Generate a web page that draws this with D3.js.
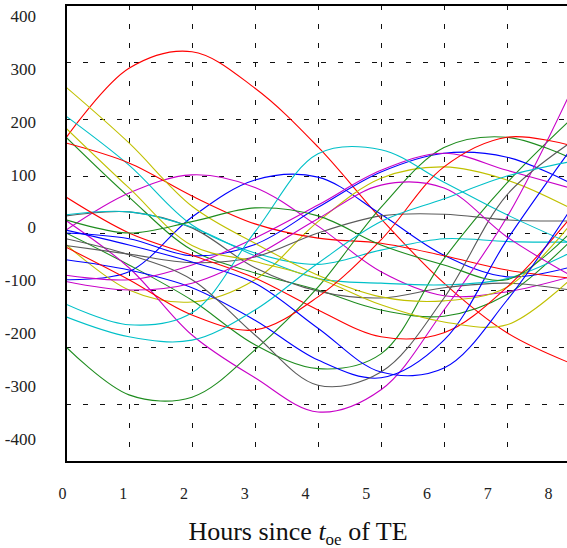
<!DOCTYPE html>
<html>
<head>
<meta charset="utf-8">
<script src="https://cdn.jsdelivr.net/npm/d3@7"></script>
<style>
  body { margin: 0; background: #fff; }
  figure { margin: 0; }
  svg { display: block; }
  svg text { font-family: "Liberation Serif", "DejaVu Serif", serif !important; }
</style>
</head>
<body>
<figure></figure>
<script>

////////////////////////////////////
///////////// Data /////////////////
////////////////////////////////////

// sample times (hours since toe)
const hours = [0, 1, 2, 3, 4, 5, 6, 7, 8]

// tick labels
const yTickLabels = [-400, -300, -200, -100, 0, 100, 200, 300, 400]
const xTickLabels = [0, 1, 2, 3, 4, 5, 6, 7, 8]
const yGrid = [-300, -200, -100, 0, 100, 200, 300]
const xGrid = [1, 2, 3, 4, 5, 6, 7]

// one array per curve, values read at each hour
const red1 = [167, 289, 318, 254, 151, 25, -88, -175, -228]
const red2 = [158, 123, 65, 16, -9, -18, -40, -65, -79]
const red3 = [63, 0, -39, -79, -135, -182, -175, -95, 26]
const red4 = [-25, -82, -144, -170, -112, -12, 116, 168, 154]

const green1 = [168, 63, -30, -70, -100, -135, -146, -108, -15]
const green2 = [0, -56, -118, -196, -238, -212, -45, 88, 198]
const green3 = [-200, -284, -288, -205, -95, 45, 150, 168, 132]
const green4 = [23, 0, 20, 44, 30, -21, -56, -82, 0]

const blue1 = [-82, -68, 28, 93, 98, 33, -39, -77, -60]
const blue2 = [0, -10, -40, -20, 45, 107, 140, 133, 88]
const blue3 = [-47, -65, -96, -153, -223, -254, -188, -12, 145]
const blue4 = [5, -21, -51, -88, -167, -244, -237, -118, 40]

const magenta1 = [5, 70, 102, 80, 12, -68, -110, -103, -77]
const magenta2 = [22, -61, -179, -254, -314, -275, -135, 28, 245]
const magenta3 = [-74, -82, -56, -9, 49, 110, 140, 110, 79]
const magenta4 = [-85, -100, -88, -40, 25, 84, 79, -7, -74]

const cyan1 = [205, 119, 14, -35, -55, -30, -10, -15, -16]
const cyan2 = [32, 37, 10, -40, -80, -88, -91, -80, -35]
const cyan3 = [-125, -161, -140, 2, 139, 146, 89, 32, -18]
const cyan4 = [-147, -182, -188, -135, -53, 20, 60, 100, 125]

const yellow1 = [-20, -100, -121, -82, 20, 96, 116, 93, 44]
const yellow2 = [256, 158, 47, -18, -74, -112, -119, -95, 14]
const yellow3 = [184, 79, -22, -50, -80, -126, -156, -161, -82]

const grey1 = [30, 37, 9, -61, -102, -114, -96, -88, -100]
const grey2 = [-22, -37, -52, -42, 0, 30, 33, 23, 21]
const grey3 = [-10, -38, -82, -179, -267, -244, -114, 67, 158]

////////////////////////////////////
///////////// SVG Setup ////////////
////////////////////////////////////

const svgWidth = 567
const svgHeight = 548

const plot = { left: 66, right: 567, top: 5, bottom: 462 }

const svg = d3.select('figure')
  .append('svg')
  .attr('width', svgWidth)
  .attr('height', svgHeight)

// colours (gnuplot-like)
const colors = {
  red: '#ff0000',
  green: '#1e8c1e',
  blue: '#0000ff',
  magenta: '#c800c8',
  cyan: '#00c0c8',
  yellow: '#c0c000',
  grey: '#5a5a5a'
}

const curves = [
  [red1, colors.red], [green1, colors.green], [blue1, colors.blue], [magenta1, colors.magenta],
  [cyan1, colors.cyan], [yellow1, colors.yellow], [grey1, colors.grey],
  [red2, colors.red], [green2, colors.green], [blue2, colors.blue], [magenta2, colors.magenta],
  [cyan2, colors.cyan], [yellow2, colors.yellow], [grey2, colors.grey],
  [red3, colors.red], [green3, colors.green], [blue3, colors.blue], [magenta3, colors.magenta],
  [cyan3, colors.cyan], [yellow3, colors.yellow], [grey3, colors.grey],
  [red4, colors.red], [green4, colors.green], [blue4, colors.blue], [magenta4, colors.magenta],
  [cyan4, colors.cyan]
]

////////////////////////////////////
///////////// Scales ///////////////
////////////////////////////////////

const x = d3.scaleLinear()
  .domain([0, 8])
  .range([66, 570])

const y = d3.scaleLinear()
  .domain([-400, 400])
  .range([461, 5])

// tick labels in the original are not aligned to the grid
const yLabel = d3.scaleLinear()
  .domain([-400, 400])
  .range([439, 16])

const xLabel = d3.scaleLinear()
  .domain([0, 8])
  .range([62, 548])

////////////////////////////////////
///////////// Grid /////////////////
////////////////////////////////////

svg.append('g')
  .attr('transform', `translate(${plot.left},0)`)
  .call(d3.axisLeft(y).tickValues(yGrid).tickSize(-(plot.right - plot.left)).tickFormat(''))
  .call(g => g.select('.domain').remove())
  .selectAll('line')
  .attr('stroke', '#111')
  .attr('stroke-dasharray', '5,12')

svg.append('g')
  .attr('transform', `translate(0,${plot.top})`)
  .call(d3.axisTop(x).tickValues(xGrid).tickSize(-(plot.bottom - plot.top)).tickFormat(''))
  .call(g => g.select('.domain').remove())
  .selectAll('line')
  .attr('stroke', '#111')
  .attr('stroke-dasharray', '5,14')

////////////////////////////////////
///////////// Curves ///////////////
////////////////////////////////////

svg.append('clipPath')
  .attr('id', 'clip')
  .append('rect')
  .attr('x', plot.left)
  .attr('y', plot.top)
  .attr('width', plot.right - plot.left)
  .attr('height', plot.bottom - plot.top)

const line = d3.line()
  .x((d, i) => x(hours[i]))
  .y(d => y(d))
  .curve(d3.curveCatmullRom.alpha(0.5))

svg.append('g')
  .attr('clip-path', 'url(#clip)')
  .selectAll('path')
  .data(curves)
  .enter()
  .append('path')
  .attr('d', d => line(d[0]))
  .attr('fill', 'none')
  .attr('stroke', d => d[1])
  .attr('stroke-width', 1.1)

////////////////////////////////////
///////////// Frame ////////////////
////////////////////////////////////

const frame = svg.append('g')
  .attr('stroke', '#000')
  .attr('stroke-width', 2)

frame.append('line')
  .attr('x1', plot.left).attr('x2', plot.left)
  .attr('y1', plot.top - 1).attr('y2', plot.bottom + 1)
frame.append('line')
  .attr('x1', plot.left).attr('x2', plot.right)
  .attr('y1', plot.top).attr('y2', plot.top)
frame.append('line')
  .attr('x1', plot.left).attr('x2', plot.right)
  .attr('y1', plot.bottom).attr('y2', plot.bottom)

////////////////////////////////////
///////////// Labels ///////////////
////////////////////////////////////

svg.append('g')
  .attr('transform', 'translate(36,0)')
  .attr('font-family', '"Liberation Serif", serif')
  .call(d3.axisLeft(yLabel).tickValues(yTickLabels).tickSize(0).tickPadding(0).tickFormat(d => String(d)))
  .call(g => g.select('.domain').remove())
  .selectAll('text')
  .attr('font-size', 17)
  .attr('fill', '#222')

svg.append('g')
  .attr('transform', 'translate(0,488)')
  .attr('font-family', '"Liberation Serif", serif')
  .call(d3.axisBottom(xLabel).tickValues(xTickLabels).tickSize(0).tickPadding(0).tickFormat(d => String(d)))
  .call(g => g.select('.domain').remove())
  .selectAll('text')
  .attr('font-size', 16)
  .attr('fill', '#222')

const title = svg.append('text')
  .attr('x', 298)
  .attr('y', 540)
  .attr('text-anchor', 'middle')
  .attr('font-size', 26)
  .attr('fill', '#111')

title.append('tspan').text('Hours since ')
title.append('tspan').attr('font-style', 'italic').text('t')
title.append('tspan').attr('dy', 5).attr('font-size', 17).text('oe')
title.append('tspan').attr('dy', -5).text(' of TE')

</script>
</body>
</html>
